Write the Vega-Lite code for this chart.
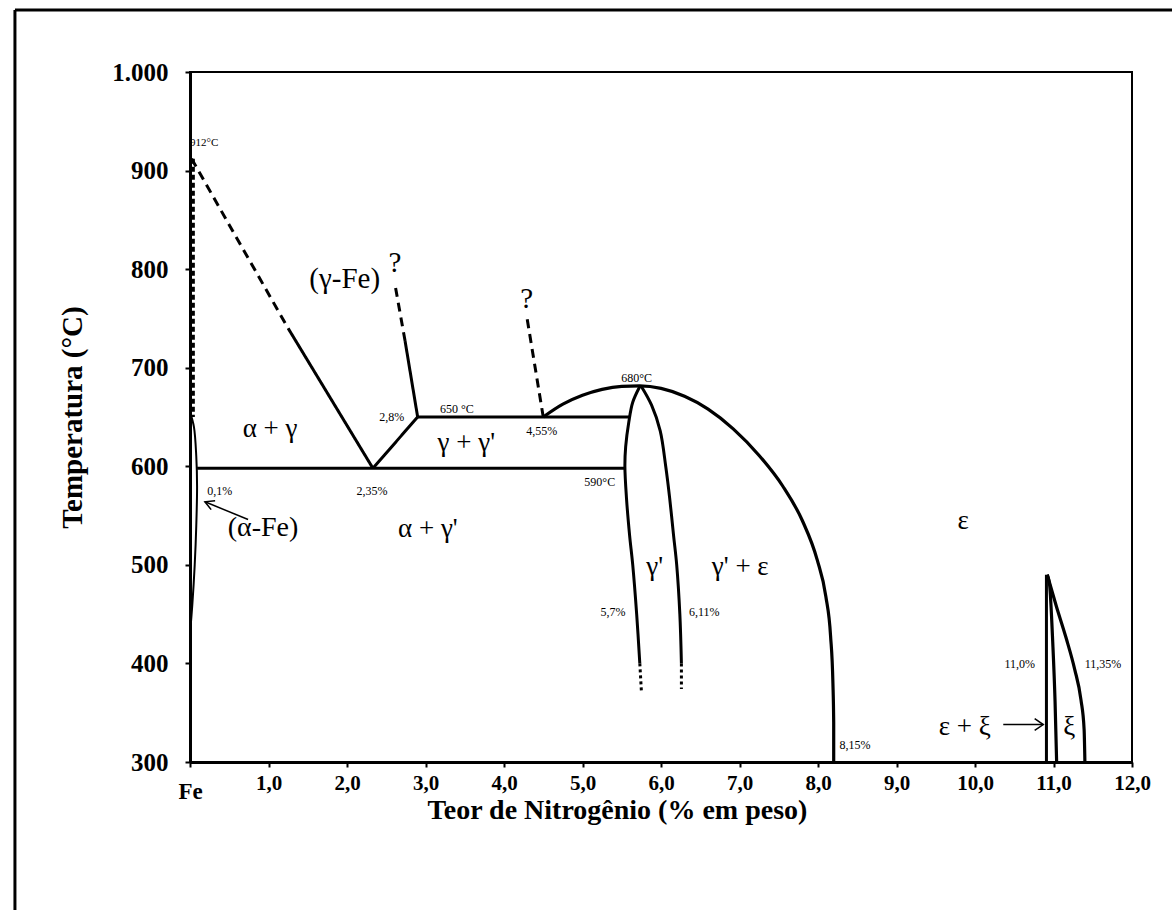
{
  "$schema": "https://vega.github.io/schema/vega-lite/v6.json",
  "width": 942,
  "height": 690,
  "autosize": {"type": "none"},
  "padding": {"left": 190, "top": 72, "right": 40, "bottom": 148},
  "background": "white",
  "config": {
    "view": {"stroke": "black", "strokeWidth": 2},
    "font": "Liberation Serif"
  },
  "datasets": {
    "straight": [
      {"seg": "a1", "style": "dash", "x": 0.02, "y": 912},
      {"seg": "a1", "style": "dash", "x": 1.25, "y": 740},
      {"seg": "a2", "style": "solid", "x": 1.25, "y": 740},
      {"seg": "a2", "style": "solid", "x": 2.33, "y": 598},
      {"seg": "b", "style": "solid", "x": 2.33, "y": 598},
      {"seg": "b", "style": "solid", "x": 2.9, "y": 650},
      {"seg": "c1", "style": "solid", "x": 2.9, "y": 650},
      {"seg": "c1", "style": "solid", "x": 2.74, "y": 727},
      {"seg": "c2", "style": "dash", "x": 2.74, "y": 727},
      {"seg": "c2", "style": "dash", "x": 2.61, "y": 785},
      {"seg": "d", "style": "solid", "x": 2.9, "y": 650},
      {"seg": "d", "style": "solid", "x": 5.6, "y": 650},
      {"seg": "e", "style": "solid", "x": 0.09, "y": 598},
      {"seg": "e", "style": "solid", "x": 5.55, "y": 598},
      {"seg": "f", "style": "dash", "x": 4.5, "y": 650},
      {"seg": "f", "style": "dash", "x": 4.29, "y": 752},
      {"seg": "g1", "style": "dot", "x": 5.73, "y": 400},
      {"seg": "g1", "style": "dot", "x": 5.75, "y": 372},
      {"seg": "g2", "style": "dot", "x": 6.26, "y": 400},
      {"seg": "g2", "style": "dot", "x": 6.26, "y": 374},
      {"seg": "h", "style": "solid", "x": 10.91, "y": 300},
      {"seg": "h", "style": "solid", "x": 10.91, "y": 490}
    ],
    "curves": [
      {"seg": "dome", "k": "m", "x": 4.5, "y": 650},
      {"seg": "dome", "k": "m", "x": 4.75, "y": 663},
      {"seg": "dome", "k": "m", "x": 5.0, "y": 672},
      {"seg": "dome", "k": "m", "x": 5.25, "y": 678},
      {"seg": "dome", "k": "m", "x": 5.5, "y": 681},
      {"seg": "dome", "k": "m", "x": 5.73, "y": 681.5},
      {"seg": "dome", "k": "m", "x": 6.0, "y": 679},
      {"seg": "dome", "k": "m", "x": 6.3, "y": 671},
      {"seg": "dome", "k": "m", "x": 6.6, "y": 658},
      {"seg": "dome", "k": "m", "x": 6.92, "y": 638},
      {"seg": "dome", "k": "m", "x": 7.25, "y": 611},
      {"seg": "dome", "k": "m", "x": 7.55, "y": 580},
      {"seg": "dome", "k": "m", "x": 7.8, "y": 545},
      {"seg": "dome", "k": "m", "x": 7.99, "y": 505},
      {"seg": "dome", "k": "m", "x": 8.1, "y": 468},
      {"seg": "dome", "k": "m", "x": 8.16, "y": 428},
      {"seg": "dome", "k": "m", "x": 8.19, "y": 380},
      {"seg": "dome", "k": "m", "x": 8.2, "y": 340},
      {"seg": "dome", "k": "m", "x": 8.2, "y": 300},
      {"seg": "gl", "k": "c", "x": 5.73, "y": 681},
      {"seg": "gl", "k": "c", "x": 5.64, "y": 665},
      {"seg": "gl", "k": "c", "x": 5.59, "y": 645},
      {"seg": "gl", "k": "c", "x": 5.55, "y": 620},
      {"seg": "gl", "k": "c", "x": 5.54, "y": 600},
      {"seg": "gl", "k": "c", "x": 5.56, "y": 568},
      {"seg": "gl", "k": "c", "x": 5.6, "y": 530},
      {"seg": "gl", "k": "c", "x": 5.64, "y": 500},
      {"seg": "gl", "k": "c", "x": 5.69, "y": 450},
      {"seg": "gl", "k": "c", "x": 5.73, "y": 400},
      {"seg": "gr", "k": "c", "x": 5.75, "y": 681},
      {"seg": "gr", "k": "c", "x": 5.88, "y": 662},
      {"seg": "gr", "k": "c", "x": 5.99, "y": 636},
      {"seg": "gr", "k": "c", "x": 6.06, "y": 600},
      {"seg": "gr", "k": "c", "x": 6.11, "y": 568},
      {"seg": "gr", "k": "c", "x": 6.16, "y": 530},
      {"seg": "gr", "k": "c", "x": 6.2, "y": 500},
      {"seg": "gr", "k": "c", "x": 6.24, "y": 450},
      {"seg": "gr", "k": "c", "x": 6.26, "y": 400},
      {"seg": "xm", "k": "m", "x": 10.92, "y": 490},
      {"seg": "xm", "k": "m", "x": 10.95, "y": 480},
      {"seg": "xm", "k": "m", "x": 10.99, "y": 422},
      {"seg": "xm", "k": "m", "x": 11.02, "y": 361},
      {"seg": "xm", "k": "m", "x": 11.04, "y": 300},
      {"seg": "xr", "k": "m", "x": 10.92, "y": 490},
      {"seg": "xr", "k": "m", "x": 11.04, "y": 457},
      {"seg": "xr", "k": "m", "x": 11.16, "y": 426},
      {"seg": "xr", "k": "m", "x": 11.27, "y": 394},
      {"seg": "xr", "k": "m", "x": 11.35, "y": 363},
      {"seg": "xr", "k": "m", "x": 11.39, "y": 333},
      {"seg": "xr", "k": "m", "x": 11.4, "y": 300}
    ],
    "alphafe": [
      {"x": 0.0, "y": 655},
      {"x": 0.05, "y": 640},
      {"x": 0.08, "y": 610},
      {"x": 0.09, "y": 580},
      {"x": 0.08, "y": 540},
      {"x": 0.06, "y": 500},
      {"x": 0.03, "y": 460},
      {"x": 0.0, "y": 430}
    ],
    "axisdots": [
      {"x": 0.03, "y": 912},
      {"x": 0.03, "y": 650}
    ],
    "arrows": [
      {"seg": "a", "x": 0.74, "y": 546},
      {"seg": "a", "x": 0.19, "y": 564},
      {"seg": "ah", "x": 0.27, "y": 556},
      {"seg": "ah", "x": 0.19, "y": 564},
      {"seg": "ah", "x": 0.32, "y": 565},
      {"seg": "b", "x": 10.36, "y": 338},
      {"seg": "b", "x": 10.87, "y": 338},
      {"seg": "bh", "x": 10.76, "y": 344},
      {"seg": "bh", "x": 10.87, "y": 338},
      {"seg": "bh", "x": 10.76, "y": 332}
    ],
    "frame": [
      {"x": -2.23, "y": 140, "x2": -2.23, "y2": 1063},
      {"x": -2.23, "y": 1063, "x2": 12.6, "y2": 1063}
    ],
    "labels": [
      {"x": 0.18, "y": 928, "t": "912°C", "s": 11},
      {"x": 1.97, "y": 790, "t": "(γ-Fe)", "s": 29},
      {"x": 2.61, "y": 806, "t": "?", "s": 29},
      {"x": 4.29, "y": 770, "t": "?", "s": 29},
      {"x": 1.02, "y": 638, "t": "α + γ", "s": 27},
      {"x": 2.57, "y": 650, "t": "2,8%", "s": 12},
      {"x": 3.4, "y": 658, "t": "650 °C", "s": 12},
      {"x": 4.48, "y": 636, "t": "4,55%", "s": 12},
      {"x": 5.69, "y": 690, "t": "680°C", "s": 12},
      {"x": 3.52, "y": 624, "t": "γ + γ'", "s": 27},
      {"x": 0.38, "y": 575, "t": "0,1%", "s": 12},
      {"x": 2.32, "y": 575, "t": "2,35%", "s": 12},
      {"x": 5.22, "y": 584, "t": "590°C", "s": 12},
      {"x": 0.93, "y": 537, "t": "(α-Fe)", "s": 28},
      {"x": 3.03, "y": 536, "t": "α + γ'", "s": 27},
      {"x": 5.92, "y": 498, "t": "γ'", "s": 27},
      {"x": 7.01, "y": 498, "t": "γ' + ε", "s": 27},
      {"x": 5.39, "y": 452, "t": "5,7%", "s": 12},
      {"x": 6.55, "y": 452, "t": "6,11%", "s": 12},
      {"x": 9.85, "y": 544, "t": "ε", "s": 27},
      {"x": 10.57, "y": 399, "t": "11,0%", "s": 12},
      {"x": 11.63, "y": 399, "t": "11,35%", "s": 12},
      {"x": 9.87, "y": 336, "t": "ε + ξ", "s": 27},
      {"x": 11.2, "y": 336, "t": "ξ", "s": 27},
      {"x": 8.47, "y": 317, "t": "8,15%", "s": 12}
    ]
  },
  "encoding": {
    "x": {
      "field": "x",
      "type": "quantitative",
      "scale": {"domain": [0, 12], "nice": false, "zero": false},
      "axis": {
        "values": [0, 1, 2, 3, 4, 5, 6, 7, 8, 9, 10, 11, 12],
        "labelExpr": "datum.value == 0 ? 'Fe' : replace(format(datum.value, '.1f'), '.', ',')",
        "labelFont": "Liberation Serif",
        "labelFontWeight": "bold",
        "labelFontSize": {"condition": {"test": "datum.value == 0", "value": 23}, "value": 21},
        "labelColor": "black",
        "labelPadding": {"condition": {"test": "datum.value == 0", "value": 13}, "value": 5},
        "labelFlush": false,
        "domainColor": "black",
        "domainWidth": 3,
        "tickColor": "black",
        "tickWidth": 2,
        "tickSize": 5,
        "grid": false,
        "title": "Teor de Nitrogênio (% em peso)",
        "titleFont": "Liberation Serif",
        "titleFontWeight": "bold",
        "titleFontSize": 28,
        "titleColor": "black",
        "titleX": 427,
        "titleY": 48,
        "titleAlign": "center",
        "titleBaseline": "middle",
        "titleAnchor": "start"
      }
    },
    "y": {
      "field": "y",
      "type": "quantitative",
      "scale": {"domain": [300, 1000], "nice": false, "zero": false},
      "axis": {
        "values": [300, 400, 500, 600, 700, 800, 900, 1000],
        "labelExpr": "datum.value == 1000 ? '1.000' : datum.label",
        "labelFont": "Liberation Serif",
        "labelFontWeight": "bold",
        "labelFontSize": 25,
        "labelColor": "black",
        "labelPadding": 17,
        "labelFlush": false,
        "domainColor": "black",
        "domainWidth": 3,
        "tickColor": "black",
        "tickWidth": 2,
        "tickSize": 5,
        "grid": false,
        "title": "Temperatura (°C)",
        "titleFont": "Liberation Serif",
        "titleFontWeight": "bold",
        "titleFontSize": 29,
        "titleColor": "black",
        "titleX": -118,
        "titleY": 345,
        "titleAngle": -90,
        "titleAlign": "center",
        "titleBaseline": "middle",
        "titleAnchor": "start"
      }
    }
  },
  "layer": [
    {
      "data": {"name": "frame"},
      "mark": {"type": "rule", "stroke": "black", "strokeWidth": 3, "clip": false},
      "encoding": {"x2": {"field": "x2"}, "y2": {"field": "y2"}}
    },
    {
      "data": {"name": "straight"},
      "mark": {"type": "line", "stroke": "black", "strokeWidth": 3, "interpolate": "linear"},
      "encoding": {
        "detail": {"field": "seg", "type": "nominal"},
        "strokeDash": {"field": "style", "type": "nominal", "scale": {"domain": ["solid", "dash", "dot"], "range": [[1, 0], [9, 6], [3, 3]]}, "legend": null},
        "order": {"value": null}
      }
    },
    {
      "data": {"name": "curves"},
      "transform": [{"filter": "datum.k == 'm'"}],
      "mark": {"type": "line", "stroke": "black", "strokeWidth": 3.2, "interpolate": "monotone"},
      "encoding": {
        "detail": {"field": "seg", "type": "nominal"},
        "order": {"value": null}
      }
    },
    {
      "data": {"name": "curves"},
      "transform": [{"filter": "datum.k == 'c'"}],
      "mark": {"type": "line", "stroke": "black", "strokeWidth": 3, "interpolate": "catmull-rom"},
      "encoding": {
        "detail": {"field": "seg", "type": "nominal"},
        "order": {"value": null}
      }
    },
    {
      "data": {"name": "alphafe"},
      "mark": {"type": "line", "stroke": "black", "strokeWidth": 2, "interpolate": "catmull-rom"},
      "encoding": {"order": {"value": null}}
    },
    {
      "data": {"name": "axisdots"},
      "mark": {"type": "line", "stroke": "black", "strokeWidth": 5, "strokeDash": [5, 3]},
      "encoding": {"order": {"value": null}}
    },
    {
      "data": {"name": "arrows"},
      "mark": {"type": "line", "stroke": "black", "strokeWidth": 1.5},
      "encoding": {
        "detail": {"field": "seg", "type": "nominal"},
        "order": {"value": null}
      }
    },
    {
      "data": {"name": "labels"},
      "mark": {"type": "text", "font": "Liberation Serif", "color": "black", "align": "center", "baseline": "middle"},
      "encoding": {
        "text": {"field": "t", "type": "nominal"},
        "size": {"field": "s", "type": "quantitative", "scale": null}
      }
    }
  ]
}
